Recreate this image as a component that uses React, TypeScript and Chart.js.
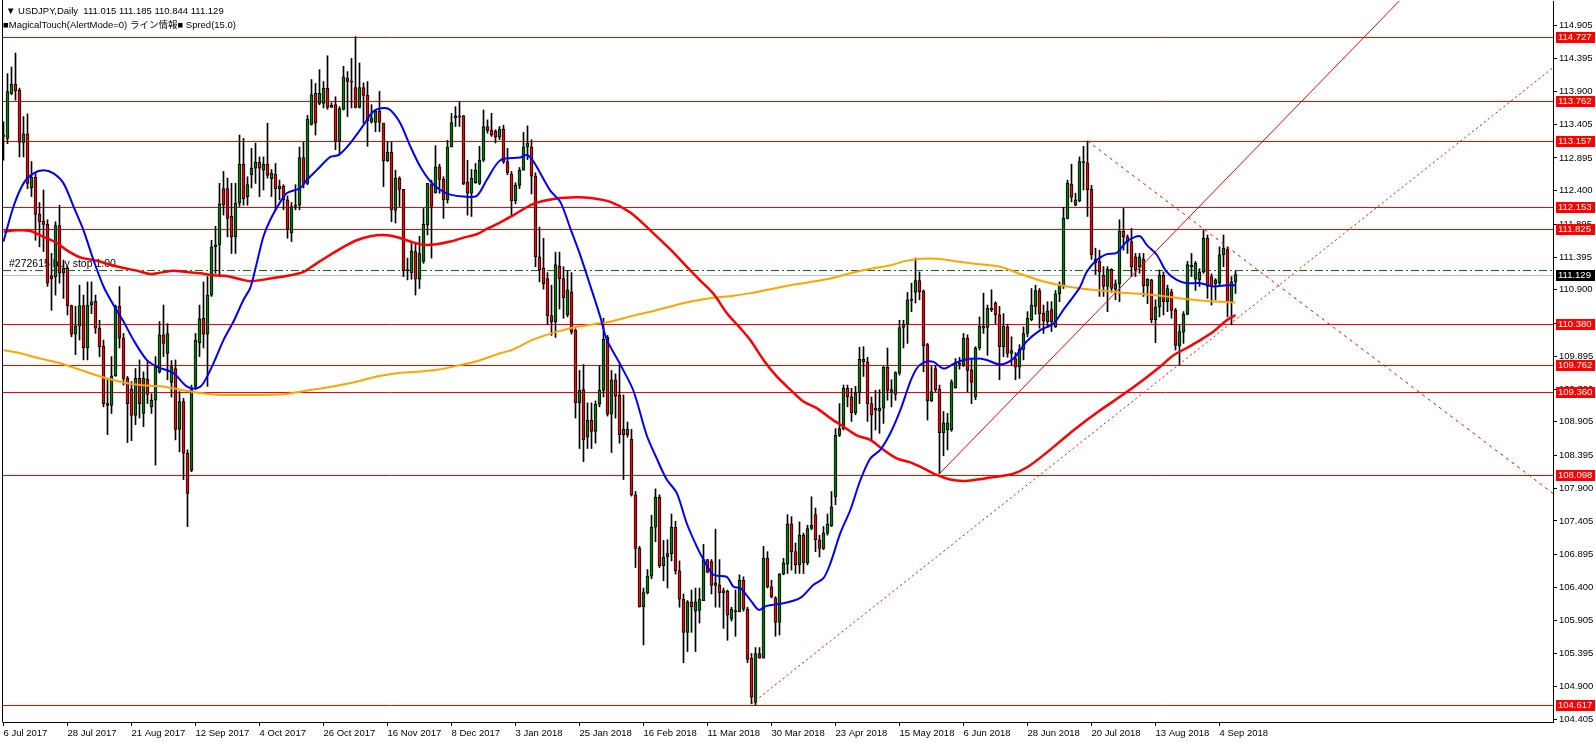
import React, { useEffect, useRef } from "react";
import { Chart, registerables } from "chart.js";
Chart.register(...registerables);

// ---- Daily USDJPY bars (6 Jul 2017 .. 11 Sep 2018) ----
const OPEN = [
113.24,113.19,113.87,114.01,113.92,113.13,113.26,112.44,112.60,112.04,
111.94,111.89,111.11,111.10,111.87,111.15,111.23,110.66,110.23,110.35,
110.66,110.02,110.67,110.73,110.32,110.05,109.18,109.15,109.60,110.65,
110.17,109.56,109.40,109.00,109.56,109.03,109.55,109.13,109.23,109.66,
110.22,109.94,109.50,109.71,108.79,109.21,108.43,108.17,109.44,110.10,
110.47,110.23,110.82,111.55,111.58,112.43,112.43,112.01,111.70,112.21,
112.80,112.31,112.64,112.74,112.83,112.71,112.80,112.58,112.65,112.43,
112.47,112.26,111.76,112.16,112.18,112.90,112.51,113.40,113.87,113.72,
113.72,113.95,113.66,113.70,113.15,113.63,114.10,114.05,113.96,113.66,
113.96,113.84,113.44,113.43,113.60,113.42,112.85,112.98,112.10,112.59,
112.42,111.19,111.16,111.48,111.06,111.33,111.88,112.49,112.37,112.76,
112.57,112.26,113.06,113.50,113.53,113.53,112.53,112.36,112.52,112.51,
112.86,113.37,113.32,113.30,113.21,113.33,112.84,112.65,112.25,112.48,
112.71,113.06,113.06,112.62,111.40,111.23,111.07,110.51,110.42,111.26,
111.07,110.52,110.87,110.29,109.19,109.39,108.67,108.93,108.76,109.17,
109.38,110.18,109.02,109.54,109.31,108.71,108.79,108.64,107.80,106.99,
106.11,106.32,106.57,107.31,107.76,106.73,106.86,106.91,107.31,106.65,
106.22,105.72,106.18,106.04,106.05,106.20,106.82,106.79,106.43,106.44,
106.35,106.34,105.92,106.05,106.03,106.51,106.07,105.33,104.66,105.40,
105.33,106.84,106.41,106.24,105.87,106.60,106.75,107.36,106.94,106.74,
107.19,106.77,107.29,107.50,107.12,106.99,107.22,107.33,107.77,108.70,
108.80,109.41,109.28,109.04,109.34,109.85,109.81,109.18,109.11,109.07,
109.11,109.73,109.39,109.32,109.64,110.33,110.38,110.75,110.86,111.04,
110.88,110.07,109.22,109.71,109.40,108.74,108.78,108.78,109.42,109.79,
109.76,110.17,109.69,109.28,110.02,110.35,110.33,110.62,110.70,110.52,
110.04,110.34,109.94,109.86,109.73,110.00,110.24,110.45,110.65,110.89,
110.55,110.42,110.60,110.34,110.84,110.95,111.98,112.50,112.18,112.25,
112.84,112.82,112.42,111.31,111.33,111.12,110.95,111.21,110.91,110.99,
111.79,111.70,111.63,111.40,111.25,111.36,110.96,111.05,110.45,110.64,
111.12,110.72,110.87,110.59,110.05,110.26,110.53,111.27,111.06,111.05,
111.17,111.68,111.10,110.99,111.00,111.43,111.51,110.72,111.015];

const HIGH = [
113.44,114.17,114.27,114.48,113.95,113.52,113.56,112.84,112.66,112.22,
112.41,111.96,111.45,111.93,112.18,111.35,111.25,110.67,110.65,110.97,
110.82,111.02,111.02,110.82,110.44,110.14,109.54,109.89,110.67,110.95,
110.24,109.59,109.51,109.71,109.84,109.66,109.83,109.33,109.89,110.42,
110.67,110.39,109.83,109.84,109.36,109.26,108.48,109.46,110.24,110.67,
111.02,111.10,111.65,111.86,112.51,112.69,112.59,112.51,112.51,113.24,
113.19,112.61,113.04,113.12,112.91,112.91,113.42,112.72,112.81,112.56,
112.49,112.32,112.22,112.49,113.06,113.13,113.54,114.08,114.02,114.23,
114.05,114.44,113.73,113.82,113.67,114.28,114.20,114.40,114.73,114.33,
114.03,114.05,113.70,113.62,113.90,113.42,113.14,113.14,112.71,112.61,
112.42,111.38,111.60,111.60,111.71,112.13,112.51,112.56,113.08,112.80,
112.61,113.16,113.57,113.67,113.75,113.54,112.86,112.72,112.81,113.07,
113.62,113.47,113.57,113.32,113.37,113.39,113.04,112.69,112.52,112.75,
113.28,113.38,113.17,112.67,111.85,111.68,111.16,110.97,111.47,111.47,
111.25,111.19,111.16,110.31,109.68,109.77,109.19,109.19,109.22,109.75,
110.47,110.21,109.68,109.63,109.77,109.31,108.90,108.79,107.85,107.02,
106.39,106.67,107.49,107.89,107.80,107.11,107.12,107.51,107.40,106.80,
106.30,106.20,106.36,106.39,106.39,107.05,106.82,106.82,107.28,106.82,
106.39,106.36,106.10,106.36,106.59,106.56,106.10,105.40,105.49,105.49,
107.02,106.94,106.51,106.26,106.61,106.84,107.50,107.47,107.07,107.39,
107.22,107.34,107.77,107.60,107.19,107.32,107.51,107.85,108.80,109.18,
109.46,109.46,109.41,109.44,110.03,110.04,109.88,109.28,109.38,109.39,
109.74,110.02,109.54,109.66,110.44,110.44,110.86,111.00,111.38,111.17,
110.90,110.09,109.74,109.76,109.46,109.06,109.03,109.54,109.86,109.88,
110.24,110.22,109.86,110.04,110.49,110.85,110.67,110.90,110.72,110.65,
110.54,110.38,110.19,109.95,110.07,110.34,110.57,110.92,110.97,110.92,
110.67,110.72,110.72,110.89,111.02,112.15,112.56,112.80,112.36,112.91,
113.07,113.15,112.48,111.53,111.50,111.25,111.25,111.22,111.05,111.96,
112.13,111.73,111.83,111.45,111.45,111.45,111.07,111.06,110.75,111.20,
111.17,110.97,110.91,110.62,110.37,110.57,111.33,111.45,111.33,111.22,
111.80,111.73,111.14,111.07,111.55,111.73,111.55,111.10,111.185];

const LOW = [
112.86,113.11,113.85,113.77,112.91,112.91,112.43,112.31,111.65,111.55,
111.48,110.95,110.59,110.82,111.00,110.77,110.52,110.19,109.92,110.14,
109.84,109.84,110.54,110.24,109.89,109.13,108.71,109.03,109.59,110.02,
109.46,108.59,108.62,108.86,108.96,108.83,109.18,109.03,108.25,109.64,
109.89,109.54,109.28,108.63,108.45,108.03,107.32,108.15,109.39,109.89,
110.02,109.44,110.80,111.15,111.10,112.03,111.70,111.45,111.45,112.16,
112.18,112.18,112.44,112.51,112.31,112.41,112.59,112.31,112.11,112.26,
112.11,111.68,111.63,112.11,112.11,112.44,112.49,113.39,113.24,113.70,
113.65,113.63,113.66,113.02,112.94,113.62,113.52,113.65,113.65,113.65,
113.42,113.07,113.42,113.29,113.29,112.46,112.84,111.93,111.91,112.16,
111.10,111.05,111.06,110.82,110.92,111.30,111.73,111.38,112.36,112.36,
111.98,112.21,113.06,113.37,113.37,112.49,112.03,112.01,112.51,112.49,
112.84,113.27,113.22,113.12,113.17,112.81,112.64,112.03,112.20,112.43,
112.71,112.87,112.35,111.25,111.02,110.91,110.38,110.21,110.18,110.61,
110.47,110.49,110.23,108.96,108.50,108.30,108.50,108.50,108.58,109.13,
109.28,108.99,108.44,108.96,108.58,108.03,108.67,107.78,106.70,106.10,
105.53,106.30,106.53,107.09,106.70,106.50,106.39,106.80,106.60,106.10,
105.26,105.43,105.72,105.43,105.86,106.20,106.62,106.30,106.10,106.10,
105.78,105.60,105.89,105.66,106.03,106.04,105.26,104.64,104.62,105.33,
105.33,106.39,106.24,105.66,105.68,106.59,106.61,106.66,106.61,106.61,
106.61,106.74,107.27,106.94,106.86,106.97,107.19,107.32,107.65,108.68,
108.78,109.13,108.91,109.01,109.18,109.59,108.91,108.63,108.78,108.73,
108.88,109.23,109.13,109.23,109.61,110.02,110.09,110.57,110.70,110.75,
109.66,108.93,109.21,109.36,108.12,108.39,108.48,108.76,109.41,109.70,
109.74,109.36,109.18,109.24,109.99,110.24,109.91,110.57,110.39,109.54,
109.89,109.88,109.76,109.54,109.56,109.84,110.19,110.43,110.53,110.32,
110.24,110.33,110.27,110.33,110.72,110.92,111.97,112.23,112.17,112.23,
112.41,112.01,111.36,111.13,110.80,110.80,110.57,110.86,110.75,110.72,
111.50,111.45,111.10,111.10,111.15,110.80,110.69,110.40,110.10,110.49,
110.52,110.57,110.47,109.99,109.76,110.09,110.52,111.10,110.89,110.95,
111.15,110.77,110.67,110.75,110.95,111.25,110.49,110.37,110.844];

const CLOSE = [
113.22,113.90,114.01,113.91,113.13,113.26,112.51,112.60,112.04,111.93,
111.89,111.00,111.07,111.87,111.15,111.23,110.66,110.23,110.35,110.66,
110.02,110.67,110.72,110.32,110.04,109.18,109.15,109.60,110.65,110.17,
109.56,109.18,109.00,109.56,109.18,109.56,109.32,109.23,109.74,110.22,
110.09,110.24,109.74,108.79,109.21,108.43,107.82,109.39,110.14,110.46,
110.23,110.82,111.55,111.58,112.20,112.18,111.98,111.70,112.21,112.80,
112.28,112.49,112.74,112.83,112.74,112.80,112.63,112.66,112.43,112.47,
112.26,111.82,112.16,112.18,112.90,112.51,113.48,113.85,113.42,113.87,
113.95,113.66,113.69,113.15,113.64,114.12,114.05,114.04,113.66,113.96,
113.84,113.46,113.50,113.60,113.43,112.85,112.98,112.11,112.59,112.42,
111.19,111.20,111.49,111.06,111.45,111.89,112.51,112.16,112.76,112.57,
112.26,113.06,113.43,113.53,113.51,112.50,112.36,112.59,112.71,112.86,
113.37,113.31,113.24,113.21,113.33,112.84,112.67,112.25,112.48,112.71,
113.06,113.12,112.62,111.40,111.20,110.99,110.51,110.42,111.28,111.07,
110.78,110.90,110.26,109.19,109.38,108.63,108.93,108.76,109.17,109.38,
110.15,109.02,109.54,109.29,108.71,108.79,108.71,107.80,106.99,106.11,
106.32,106.57,107.31,107.76,106.73,106.86,106.91,107.31,106.65,106.22,
105.72,106.18,106.11,106.18,106.22,106.82,106.63,106.43,106.47,106.32,
106.32,105.98,106.07,106.03,106.51,106.07,105.31,104.74,105.40,105.33,
106.84,106.41,106.26,105.87,106.60,106.77,107.36,106.94,106.74,107.19,
106.77,107.29,107.34,107.12,106.99,107.22,107.36,107.62,108.70,108.80,
109.41,109.28,109.04,109.34,109.85,109.81,109.18,109.01,109.08,109.11,
109.73,109.38,109.35,109.65,110.33,110.38,110.75,110.74,111.04,110.87,
110.05,109.22,109.36,109.39,108.74,108.89,108.89,109.51,109.80,109.77,
110.17,109.68,109.50,110.02,110.35,110.32,110.62,110.60,110.52,110.04,
110.35,109.94,109.98,109.73,110.00,110.24,110.47,110.67,110.89,110.54,
110.43,110.58,110.42,110.84,110.97,111.98,112.51,112.30,112.26,112.84,
112.82,112.41,111.43,111.36,111.17,110.95,111.21,110.92,110.99,111.79,
111.70,111.63,111.25,111.20,111.40,110.96,111.06,110.45,110.64,111.12,
110.72,110.92,110.59,110.06,110.27,110.53,111.28,111.25,111.30,111.17,
111.68,110.95,110.95,111.05,111.43,111.53,110.72,111.02,111.129];

// ---- Moving averages: [bar index, price] ----
const MA_FAST = [
[0,111.63],[2.5,112.16],[5,112.51],[7.5,112.66],[10,112.71],[12.5,112.66],[15,112.51],[17.5,112.16],[20,111.80],
[22.5,111.35],[25,110.95],[27.5,110.67],[30,110.42],[32.5,110.14],[35.8,109.84],[38.3,109.74],[42.5,109.64],
[45.8,109.44],[48.3,109.41],[50,109.49],[52.5,109.79],[55,110.14],[57.5,110.42],[60,110.75],[61.7,110.93],
[63.3,111.30],[65,111.71],[66.7,111.96],[69.2,112.23],[70.8,112.36],[74.2,112.44],[75.8,112.56],[78.3,112.71],
[81.7,112.91],[83.8,112.94],[86.7,113.12],[90,113.39],[92.5,113.60],[95,113.65],[96.7,113.62],[99.2,113.42],
[101.7,113.07],[104.2,112.76],[106.7,112.54],[109.2,112.41],[111.7,112.34],[115,112.31],[118.3,112.32],
[120.8,112.56],[124.2,112.86],[129.2,112.90],[130.8,112.94],[132.5,112.84],[136.7,112.40],[139.2,112.23],
[141.7,111.83],[144.2,111.42],[146.7,110.96],[149.2,110.49],[150.8,110.15],[154.2,109.77],[157.5,109.37],
[160.8,108.70],[163.3,108.35],[165.8,108.03],[168.3,107.83],[170.8,107.37],[173.3,107.02],[175,106.82],
[177.5,106.59],[180.8,106.56],[182.5,106.41],[184.2,106.39],[186.7,106.21],[188.8,106.06],[190.8,106.12],
[195,106.16],[199.2,106.24],[202.5,106.44],[205,106.54],[206.7,106.76],[209.2,107.22],[211.7,107.57],
[214.2,108.02],[216.7,108.35],[219.2,108.48],[221.7,108.73],[224.2,109.08],[226.7,109.51],[228.3,109.71],
[230,109.80],[232.5,109.81],[235,109.71],[237.5,109.78],[240,109.84],[243.3,109.86],[245.8,109.84],
[249.2,109.77],[252.5,109.86],[255.8,110.12],[259.2,110.29],[262.5,110.39],[265,110.60],[267.5,110.80],
[269.2,110.95],[270.8,111.17],[273.3,111.35],[275.8,111.44],[278.3,111.46],[280.8,111.63],[282.5,111.69],
[284.2,111.71],[285.8,111.58],[288.3,111.43],[290.8,111.17],[293.3,111.05],[295.8,111.00],[299.2,111.00],
[302.5,110.95],[305.8,110.97],[308,110.97]];

const MA_MID = [
[0,111.78],[3.3,111.80],[6.7,111.79],[10,111.70],[13.3,111.61],[15.8,111.50],[19.2,111.39],[23.3,111.34],
[26.7,111.28],[30,111.23],[33.3,111.19],[36.7,111.14],[39.2,111.16],[42.5,111.19],[45.8,111.17],[49.2,111.15],
[52.5,111.12],[55.8,111.11],[59.2,111.06],[61.7,111.03],[66.7,111.07],[71.7,111.12],[75,111.17],[78.3,111.30],
[81.7,111.43],[85,111.55],[88.3,111.65],[91.7,111.71],[95,111.73],[98.3,111.70],[101.7,111.63],[105,111.58],
[108.3,111.59],[111.7,111.63],[115,111.69],[118.3,111.74],[120.8,111.82],[124.2,111.92],[127.5,112.03],
[132.5,112.20],[138.3,112.28],[143.3,112.30],[146.7,112.29],[151.7,112.23],[156.7,112.07],[161.7,111.80],
[166.7,111.51],[170.8,111.25],[174.2,111.04],[177.5,110.84],[180.8,110.55],[184.2,110.32],[186.7,110.14],
[190,109.84],[193.3,109.59],[196.7,109.39],[200,109.21],[203.3,109.11],[206.7,108.96],[210,108.83],
[213.3,108.70],[216.7,108.63],[220,108.48],[223.3,108.35],[226.7,108.29],[230,108.20],[233.3,108.10],
[236.7,108.03],[240,108.01],[243.3,108.03],[246.7,108.06],[249.2,108.08],[252.5,108.12],[256,108.22],
[260,108.40],[264,108.60],[268,108.80],[274,109.07],[280,109.32],[285,109.54],[289.2,109.74],[292.5,109.91],
[295.8,110.02],[299.2,110.14],[302.5,110.27],[305.8,110.44],[308,110.52]];

const MA_SLOW = [
[0,109.99],[4.2,109.94],[9.2,109.86],[14.2,109.79],[19.2,109.69],[24.2,109.59],[29.2,109.51],[34.2,109.46],
[39.2,109.44],[44.2,109.39],[49.2,109.34],[54.2,109.31],[61.7,109.31],[70,109.32],[74.2,109.36],[78.3,109.40],
[83.3,109.45],[88.3,109.51],[93.3,109.59],[98.3,109.64],[103.3,109.66],[108.3,109.69],[113.3,109.75],
[118.3,109.82],[124.2,109.94],[127.5,110.00],[132.5,110.15],[137.5,110.25],[142.5,110.33],[147.5,110.38],
[152.5,110.43],[157.5,110.51],[162.5,110.58],[167.5,110.66],[172.5,110.73],[177.5,110.78],[182.5,110.81],
[186.7,110.85],[191.7,110.91],[196.7,110.97],[201.7,111.02],[206.7,111.07],[211.7,111.15],[216.7,111.22],
[221.7,111.27],[225,111.33],[229.2,111.37],[233.3,111.37],[238.3,111.33],[243.3,111.29],[249.2,111.25],
[254.2,111.14],[259.2,111.04],[264.2,110.97],[269.2,110.92],[274.2,110.89],[279.2,110.86],[284.2,110.84],
[289.2,110.81],[294.2,110.77],[299.2,110.74],[304.2,110.72],[308,110.71]];

// ---- Trend lines: [bar index, price] ----
const TREND_UP = [[234, 108.12], [387.4, 117.66]];
const TREND_SUPPORT = [[187, 104.64], [387.4, 114.26]];
const TREND_DOWN = [[271, 113.15], [387.4, 107.82]];

// ---- Horizontal levels / axis ----
const LEVELS = [114.727, 113.762, 113.157, 112.153, 111.825, 110.380, 109.762, 109.360, 108.098, 104.617];
const BID = 111.129;
const ORDER_LEVEL = 111.20;
const ORDER_TEXT = "#272615 buy stop 1.00";
const PRICE_TICKS = [114.905, 114.395, 113.900, 113.405, 112.895, 112.400, 111.895, 111.395, 110.900, 110.390,
  109.895, 109.390, 108.905, 108.395, 107.900, 107.405, 106.895, 106.400, 105.905, 105.395, 104.900, 104.405];
const DATE_TICKS = [0, 16, 32, 48, 64, 80, 96, 112, 128, 144, 160, 176, 192, 208, 224, 240, 256, 272, 288, 304];
const DATE_LABELS = ["6 Jul 2017", "28 Jul 2017", "21 Aug 2017", "12 Sep 2017", "4 Oct 2017", "26 Oct 2017",
  "16 Nov 2017", "8 Dec 2017", "3 Jan 2018", "25 Jan 2018", "16 Feb 2018", "11 Mar 2018", "30 Mar 2018",
  "23 Apr 2018", "15 May 2018", "6 Jun 2018", "28 Jun 2018", "20 Jul 2018", "13 Aug 2018", "4 Sep 2018"];
const HEADER = "\u25BC USDJPY,Daily  111.015 111.185 110.844 111.129";
const SUBHEADER = "\u25A0MagicalTouch(AlertMode=0) ライン情報\u25A0 Spred(15.0)";

const FONT = '"Liberation Sans", Arial, "Noto Sans CJK JP", sans-serif';
const X_MIN = -0.125, X_MAX = 387.375;
const Y_MIN = 104.364, Y_MAX = 115.268;

const pts = (arr: number[][]) => arr.map(([x, y]) => ({ x, y }));

const overlay = {
  id: "overlay",
  beforeDatasetsDraw(chart: any) {
    const { ctx, chartArea: a, scales } = chart;
    const y = scales.y;
    const hline = (v: number) => {
      const yy = Math.round(y.getPixelForValue(v)) + 0.5;
      ctx.beginPath(); ctx.moveTo(a.left, yy); ctx.lineTo(a.right, yy); ctx.stroke();
      return yy;
    };
    ctx.save();
    ctx.beginPath(); ctx.rect(a.left, a.top, a.right - a.left, a.bottom - a.top); ctx.clip();
    ctx.lineWidth = 1;
    ctx.strokeStyle = "#c0c0c0"; hline(BID);
    ctx.strokeStyle = "#008000"; ctx.setLineDash([8, 3, 2, 3]);
    const yo = hline(ORDER_LEVEL);
    ctx.setLineDash([]);
    ctx.fillStyle = "#000"; ctx.font = `10.5px ${FONT}`; ctx.textBaseline = "alphabetic"; ctx.textAlign = "left";
    ctx.fillText(ORDER_TEXT, a.left + 6, yo - 4);
    ctx.strokeStyle = "#ff0000";
    LEVELS.forEach((v) => hline(v));
    ctx.restore();
  },
  afterDraw(chart: any) {
    const { ctx, chartArea: a, scales, width } = chart;
    const y = scales.y;
    ctx.save();
    ctx.strokeStyle = "#000"; ctx.lineWidth = 1;
    ctx.beginPath(); ctx.moveTo(a.left - 0.5, 0); ctx.lineTo(a.left - 0.5, a.bottom + 0.5); ctx.stroke();
    ctx.font = `9.5px ${FONT}`; ctx.textBaseline = "middle"; ctx.textAlign = "left";
    const box = (v: number, bg: string) => {
      const yy = Math.round(y.getPixelForValue(v));
      ctx.fillStyle = bg; ctx.fillRect(a.right + 3, yy - 5, width - a.right - 4, 11);
      ctx.fillStyle = "#fff"; ctx.fillText(v.toFixed(3), a.right + 5, yy + 0.5);
    };
    LEVELS.forEach((v) => box(v, "#ff0000"));
    box(BID, "#000");
    ctx.fillStyle = "#000"; ctx.font = `9.5px ${FONT}`;
    ctx.fillText(HEADER, 6, 11);
    ctx.fillText(SUBHEADER, 3, 25);
    ctx.restore();
  },
};

export default function App() {
  const ref = useRef<HTMLCanvasElement>(null);
  useEffect(() => {
    const idx = OPEN.map((_, i) => i);
    const chart = new Chart(ref.current as HTMLCanvasElement, {
      type: "bar",
      data: {
        datasets: [
          { type: "line", data: pts(MA_FAST), borderColor: "#0000ff", borderWidth: 2, pointRadius: 0, tension: 0.3, order: 0 } as any,
          { type: "line", data: pts(MA_MID), borderColor: "#ff0000", borderWidth: 2.5, pointRadius: 0, tension: 0.3, order: 0 } as any,
          { type: "line", data: pts(MA_SLOW), borderColor: "#ffa500", borderWidth: 2, pointRadius: 0, tension: 0.3, order: 0 } as any,
          { type: "line", data: pts(TREND_UP), borderColor: "#ff0000", borderWidth: 1, pointRadius: 0, order: 0 } as any,
          { type: "line", data: pts(TREND_SUPPORT), borderColor: "#ff0000", borderWidth: 1, borderDash: [2, 3], pointRadius: 0, order: 0 } as any,
          { type: "line", data: pts(TREND_DOWN), borderColor: "#ff0000", borderWidth: 1, borderDash: [3, 4], pointRadius: 0, order: 0 } as any,
          {
            type: "bar", data: idx.map((i) => ({ x: i, y: [LOW[i], HIGH[i]] })),
            backgroundColor: "#000", borderWidth: 0, barThickness: 1, grouped: false, order: 3,
          } as any,
          {
            type: "bar", data: idx.map((i) => ({ x: i, y: [OPEN[i], CLOSE[i]] })),
            backgroundColor: idx.map((i) => (CLOSE[i] >= OPEN[i] ? "#008000" : "#ff0000")),
            borderColor: "#000", borderWidth: 1, borderSkipped: false, barThickness: 3, minBarLength: 1,
            grouped: false, order: 2,
          } as any,
        ],
      },
      options: {
        responsive: false,
        devicePixelRatio: 1,
        animation: false,
        events: [],
        layout: { padding: { left: 3, top: 1, right: 0, bottom: 0 } },
        plugins: { legend: { display: false }, tooltip: { enabled: false } },
        scales: {
          x: {
            type: "linear", min: X_MIN, max: X_MAX, offset: false, position: "bottom",
            afterBuildTicks: (s: any) => { s.ticks = DATE_TICKS.map((v) => ({ value: v })); },
            afterFit: (s: any) => { s.height = 21; s.paddingLeft = 0; s.paddingRight = 0; },
            ticks: {
              autoSkip: false, maxRotation: 0, minRotation: 0, align: "start", padding: 2, color: "#000",
              font: { family: FONT, size: 9.5 },
              callback: (_v: any, i: number) => DATE_LABELS[i],
            },
            grid: { display: true, drawOnChartArea: false, drawTicks: true, tickLength: 4, color: "#000", offset: false },
            border: { display: true, color: "#000", width: 1 },
          } as any,
          y: {
            type: "linear", position: "right", min: Y_MIN, max: Y_MAX,
            afterBuildTicks: (s: any) => { s.ticks = PRICE_TICKS.map((v) => ({ value: v })); },
            afterFit: (s: any) => { s.width = 43; s.paddingTop = 0; s.paddingBottom = 0; },
            ticks: {
              autoSkip: false, padding: 2, color: "#000", font: { family: FONT, size: 9.5 },
              callback: (v: any) => Number(v).toFixed(3),
            },
            grid: { display: true, drawOnChartArea: false, drawTicks: true, tickLength: 4, color: "#000" },
            border: { display: true, color: "#000", width: 1 },
          } as any,
        },
      },
      plugins: [overlay],
    } as any);
    return () => chart.destroy();
  }, []);
  return (
    <div style={{ position: "fixed", left: 0, top: 0, width: 1596, height: 743, background: "#fff" }}>
      <canvas ref={ref} width={1596} height={743} style={{ display: "block", width: 1596, height: 743 }} />
    </div>
  );
}
